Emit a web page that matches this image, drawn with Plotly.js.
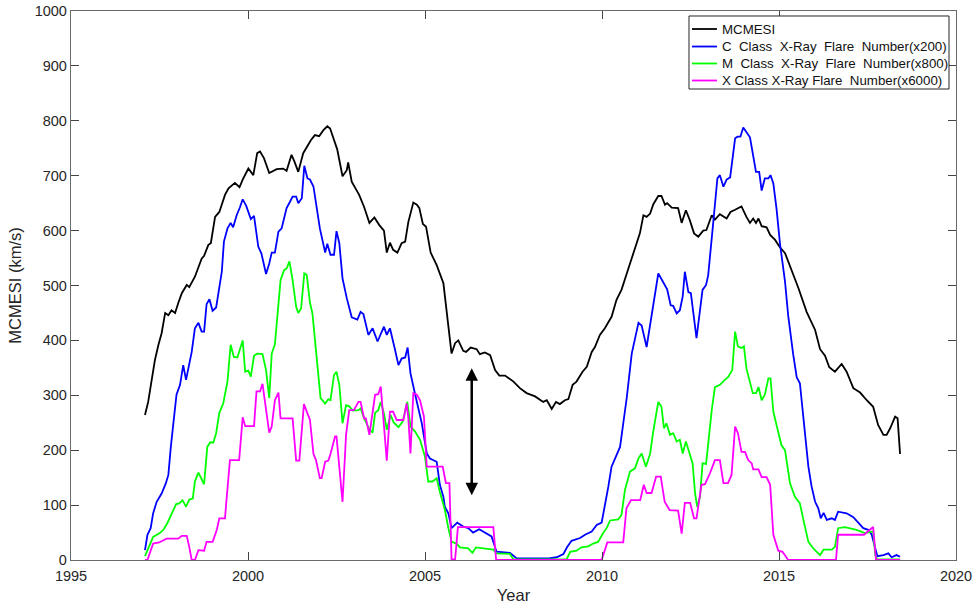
<!DOCTYPE html>
<html>
<head>
<meta charset="utf-8">
<script src="https://cdn.plot.ly/plotly-3.0.1.min.js"></script>
<style>html,body{margin:0;padding:0;background:#fff;}#chart{width:979px;height:608px;}</style>
</head>
<body>
<div id="chart"></div>
<script>
// ---- Data ----
const seriesNames = ["MCMESI",
  "C\u00a0 Class\u00a0 X-Ray\u00a0 Flare\u00a0 Number(x200)",
  "M\u00a0 Class\u00a0 X-Ray\u00a0 Flare\u00a0 Number(x800)",
  "X Class X-Ray Flare\u00a0 Number(x6000)"];

const yearsMcmesi = [1997.09,1997.18,1997.28,1997.37,1997.47,1997.56,1997.66,1997.75,1997.84,1997.94,1998.03,1998.13,1998.27,1998.34,1998.50,1998.69,1998.76,1998.88,1998.95,1999.07,1999.19,1999.35,1999.45,1999.63,1999.76,1999.85,2000.01,2000.15,2000.26,2000.34,2000.45,2000.60,2000.81,2000.99,2001.09,2001.23,2001.31,2001.42,2001.56,2001.66,2001.78,2001.89,2002.01,2002.13,2002.24,2002.32,2002.41,2002.52,2002.67,2002.79,2002.83,2002.93,2003.14,2003.28,2003.43,2003.57,2003.71,2003.84,2003.92,2004.01,2004.10,2004.22,2004.34,2004.44,2004.53,2004.67,2004.77,2004.84,2004.94,2005.03,2005.16,2005.33,2005.52,2005.61,2005.75,2005.85,2005.94,2006.08,2006.16,2006.29,2006.46,2006.55,2006.69,2006.84,2006.98,2007.10,2007.26,2007.50,2007.68,2007.87,2008.11,2008.34,2008.44,2008.58,2008.70,2008.81,2008.95,2009.05,2009.17,2009.28,2009.45,2009.57,2009.71,2009.80,2009.94,2010.08,2010.27,2010.41,2010.55,2010.70,2010.84,2010.98,2011.07,2011.17,2011.26,2011.36,2011.45,2011.59,2011.68,2011.78,2011.84,2011.97,2012.15,2012.25,2012.37,2012.48,2012.60,2012.72,2012.86,2012.95,2013.10,2013.19,2013.33,2013.52,2013.63,2013.76,2013.94,2014.08,2014.18,2014.27,2014.35,2014.42,2014.51,2014.65,2014.75,2014.89,2015.01,2015.17,2015.40,2015.55,2015.78,2016.02,2016.16,2016.30,2016.42,2016.58,2016.77,2016.91,2017.10,2017.29,2017.48,2017.66,2017.80,2017.95,2018.04,2018.14,2018.28,2018.35,2018.42];
const mcmesi = [264,288,328,364,392,413,450,446,455,450,468,486,501,497,516,549,554,574,577,625,634,665,677,687,679,693,713,701,741,744,732,705,712,713,709,738,726,707,741,753,765,774,772,783,790,786,768,748,699,710,724,689,665,643,614,624,610,600,560,578,565,560,577,580,616,651,647,641,612,607,560,537,504,455,376,395,400,381,379,387,384,375,378,373,346,336,336,325,313,304,298,288,291,275,288,284,291,293,319,325,343,352,379,388,410,422,443,474,492,522,549,580,595,628,625,631,648,663,663,647,650,642,641,614,637,619,595,589,600,601,628,620,630,622,634,638,644,625,614,622,614,622,608,606,592,583,571,559,522,495,452,419,384,372,351,343,357,343,313,305,291,279,246,228,228,240,261,258,193];

const yearsC = [1997.09,1997.16,1997.25,1997.32,1997.42,1997.56,1997.68,1997.75,1997.82,1997.94,1997.98,1998.08,1998.17,1998.25,1998.41,1998.50,1998.60,1998.69,1998.76,1998.83,1998.91,1999.00,1999.10,1999.26,1999.32,1999.42,1999.51,1999.58,1999.68,1999.77,1999.85,1999.95,2000.08,2000.17,2000.29,2000.38,2000.51,2000.60,2000.67,2000.76,2000.86,2000.95,2001.09,2001.19,2001.26,2001.36,2001.42,2001.52,2001.59,2001.68,2001.75,2001.85,2001.94,2002.03,2002.18,2002.24,2002.33,2002.43,2002.50,2002.58,2002.67,2002.79,2002.93,2003.09,2003.18,2003.26,2003.40,2003.52,2003.66,2003.84,2003.92,2004.01,2004.15,2004.25,2004.34,2004.44,2004.51,2004.59,2004.72,2004.91,2005.05,2005.14,2005.33,2005.42,2005.52,2005.56,2005.66,2005.75,2005.91,2006.08,2006.22,2006.36,2006.53,2006.69,2006.88,2007.02,2007.40,2007.59,2007.97,2008.50,2008.72,2008.91,2009.02,2009.14,2009.38,2009.52,2009.71,2009.85,2009.99,2010.06,2010.18,2010.27,2010.51,2010.70,2010.84,2011.03,2011.12,2011.26,2011.40,2011.59,2011.73,2011.84,2011.94,2012.01,2012.11,2012.20,2012.28,2012.34,2012.44,2012.51,2012.67,2012.84,2012.94,2013.00,2013.14,2013.26,2013.33,2013.43,2013.52,2013.62,2013.76,2013.83,2013.91,2013.99,2014.18,2014.27,2014.35,2014.44,2014.51,2014.60,2014.70,2014.76,2014.84,2014.93,2015.03,2015.17,2015.26,2015.40,2015.50,2015.59,2015.71,2015.83,2015.92,2016.02,2016.11,2016.18,2016.26,2016.35,2016.49,2016.58,2016.67,2016.91,2017.10,2017.24,2017.38,2017.52,2017.62,2017.72,2017.78,2017.95,2018.09,2018.18,2018.32,2018.42];
const cFlare = [18,46,58,85,106,121,140,155,206,273,301,319,355,328,379,422,432,416,416,466,475,454,460,525,580,604,614,606,628,642,657,645,621,627,571,558,521,540,560,560,598,604,641,653,662,662,650,659,718,695,693,680,641,604,560,576,556,556,599,577,513,477,442,438,452,448,410,422,398,425,410,422,384,355,367,369,387,340,302,249,194,185,179,137,115,97,85,58,68,61,58,50,56,50,43,15,13,3,3,3,5,11,24,35,40,46,52,64,68,91,134,170,206,296,376,432,427,388,443,522,506,493,464,463,449,455,480,525,488,486,404,492,501,519,613,695,701,680,693,697,768,771,771,788,770,732,707,707,673,695,695,701,686,640,575,507,445,375,333,322,243,170,134,106,94,76,86,73,76,73,88,85,78,68,58,55,46,21,7,9,12,5,9,6];

const yearsM = [1997.09,1997.16,1997.32,1997.51,1997.61,1997.72,1997.84,1997.97,1998.06,1998.15,1998.25,1998.34,1998.44,1998.50,1998.60,1998.76,1998.85,1998.93,1999.02,1999.10,1999.19,1999.30,1999.42,1999.51,1999.60,1999.70,1999.85,1999.92,2000.01,2000.08,2000.17,2000.26,2000.41,2000.51,2000.60,2000.67,2000.76,2000.86,2000.92,2001.02,2001.09,2001.17,2001.26,2001.36,2001.42,2001.50,2001.59,2001.66,2001.75,2001.82,2001.92,2002.01,2002.05,2002.18,2002.27,2002.33,2002.43,2002.50,2002.58,2002.67,2002.77,2002.86,2002.96,2003.12,2003.18,2003.28,2003.43,2003.52,2003.59,2003.68,2003.75,2003.84,2003.92,2004.03,2004.12,2004.25,2004.37,2004.50,2004.59,2004.72,2004.86,2005.00,2005.09,2005.21,2005.33,2005.42,2005.56,2005.66,2005.75,2005.89,2005.99,2006.22,2006.34,2006.44,2006.65,2006.93,2007.02,2007.40,2007.50,2009.00,2009.10,2009.28,2009.42,2009.61,2009.75,2009.89,2010.04,2010.13,2010.23,2010.46,2010.55,2010.65,2010.79,2010.93,2011.03,2011.12,2011.24,2011.36,2011.45,2011.59,2011.68,2011.75,2011.82,2011.92,2012.01,2012.11,2012.20,2012.28,2012.37,2012.48,2012.56,2012.63,2012.69,2012.77,2012.84,2012.94,2013.00,2013.10,2013.19,2013.33,2013.47,2013.56,2013.68,2013.76,2013.84,2013.94,2014.01,2014.08,2014.26,2014.35,2014.42,2014.51,2014.60,2014.70,2014.76,2014.84,2014.93,2015.07,2015.17,2015.31,2015.45,2015.59,2015.69,2015.83,2015.97,2016.16,2016.26,2016.49,2016.58,2016.67,2016.86,2017.19,2017.43,2017.66,2017.72,2017.77,2018.42];
const mFlare = [7,18,42,49,55,67,85,102,103,109,97,110,112,143,159,138,206,214,214,231,268,285,325,392,370,369,400,343,345,334,372,376,375,346,295,376,393,468,510,528,531,544,510,461,450,458,522,519,469,449,386,322,295,285,293,291,337,343,319,249,282,280,272,273,276,258,238,232,268,273,288,267,237,264,250,242,252,288,243,234,219,188,143,143,149,124,92,58,33,30,23,21,13,23,21,19,12,11,1,1,15,17,23,25,30,33,50,58,72,74,82,128,161,167,185,194,170,194,235,288,279,240,249,228,231,216,219,194,216,191,176,121,97,115,176,175,213,273,315,319,328,333,346,416,389,386,389,349,304,304,315,291,301,331,331,270,246,209,200,140,115,103,73,33,21,9,19,19,24,58,60,55,49,52,9,1,1];

const yearsX = [1997.09,1997.16,1997.32,1997.49,1997.70,1998.03,1998.13,1998.27,1998.34,1998.41,1998.50,1998.60,1998.76,1998.83,1999.00,1999.12,1999.19,1999.35,1999.40,1999.49,1999.75,1999.85,1999.92,2000.17,2000.24,2000.34,2000.41,2000.51,2000.60,2000.67,2000.76,2000.86,2000.92,2001.26,2001.36,2001.45,2001.58,2001.75,2001.85,2001.92,2002.03,2002.08,2002.18,2002.27,2002.33,2002.46,2002.50,2002.67,2002.77,2002.86,2002.99,2003.12,2003.18,2003.28,2003.33,2003.43,2003.52,2003.59,2003.68,2003.75,2003.82,2003.92,2004.01,2004.10,2004.20,2004.39,2004.48,2004.53,2004.59,2004.67,2004.77,2004.86,2004.97,2005.05,2005.50,2005.59,2005.69,2005.75,2005.85,2005.93,2006.93,2007.01,2009.99,2010.15,2010.60,2010.69,2010.82,2011.08,2011.18,2011.26,2011.40,2011.53,2011.66,2011.77,2011.91,2012.15,2012.25,2012.34,2012.49,2012.60,2012.67,2012.81,2012.91,2013.05,2013.19,2013.33,2013.43,2013.56,2013.66,2013.76,2013.84,2013.94,2014.04,2014.13,2014.23,2014.27,2014.42,2014.51,2014.65,2014.75,2014.84,2014.98,2015.10,2015.26,2016.61,2016.67,2017.40,2017.52,2017.66,2017.74,2018.42];
const xFlare = [0,0,30,32,39,39,44,44,24,0,0,18,17,33,33,55,76,76,115,182,182,260,244,244,307,307,321,273,232,243,291,305,258,258,181,181,284,255,193,182,149,149,179,181,193,225,225,106,228,273,273,288,288,258,258,228,273,301,302,316,261,181,270,270,255,255,285,258,194,304,301,291,261,170,170,140,140,1,1,60,60,0,0,32,32,94,109,109,137,122,122,152,152,106,91,90,48,104,104,76,76,137,138,158,182,182,140,140,155,243,231,197,197,182,176,165,165,151,151,137,46,17,15,0,0,46,46,52,60,0,0];

const xTickVals = [1995, 2000, 2005, 2010, 2015, 2020];
const yTickVals = [0, 100, 200, 300, 400, 500, 600, 700, 800, 900, 1000];
// double-headed arrow marking the gap (year, from, to)
const arrowYear = 2006.32;
const arrowTop = 352;
const arrowBottom = 118;

// ---- Chart ----
const colors = ["#000000", "#0000ff", "#00ff00", "#ff00ff"];
const xs = [yearsMcmesi, yearsC, yearsM, yearsX];
const ys = [mcmesi, cFlare, mFlare, xFlare];
const traces = xs.map((x, i) => ({
  x: x, y: ys[i], type: "scatter", mode: "lines", name: seriesNames[i],
  line: {color: colors[i], width: 1.8}, showlegend: false
}));

const FONT = "Liberation Sans, Arial, sans-serif";
const axisCommon = {
  showline: true, linecolor: "#6a6a6a", linewidth: 1.2, mirror: "ticks",
  ticks: "inside", ticklen: 8, tickcolor: "#444", tickwidth: 1,
  showgrid: false, zeroline: false,
  tickfont: {family: FONT, size: 14.5, color: "#262626"}
};

// Legend box drawn in paper coordinates (MATLAB-style compact legend)
const legBox = {x0: 0.6983, x1: 0.9921, y0: 0.8579, y1: 0.9909};
const legRowY = [0.9672, 0.9353, 0.9044, 0.8734];
const legLineX = [0.7017, 0.7299];
const legTextX = 0.7333;

const shapes = [{
  type: "rect", xref: "paper", yref: "paper",
  x0: legBox.x0, x1: legBox.x1, y0: legBox.y0, y1: legBox.y1,
  line: {color: "#262626", width: 1}, fillcolor: "#ffffff", layer: "above"
}];
const annotations = [];
seriesNames.forEach((name, i) => {
  shapes.push({
    type: "line", xref: "paper", yref: "paper",
    x0: legLineX[0], x1: legLineX[1], y0: legRowY[i], y1: legRowY[i],
    line: {color: colors[i], width: 1.8}, layer: "above"
  });
  annotations.push({
    xref: "paper", yref: "paper", x: legTextX, y: legRowY[i],
    xanchor: "left", yanchor: "middle", showarrow: false, text: name,
    font: {family: FONT, size: 13.3, color: "#111"}
  });
});
annotations.push({
  x: arrowYear, y: arrowBottom, ax: arrowYear, ay: arrowTop,
  xref: "x", yref: "y", axref: "x", ayref: "y",
  showarrow: true, arrowhead: 2, startarrowhead: 2, arrowside: "end+start",
  arrowsize: 1, startarrowsize: 1, arrowwidth: 2.5, arrowcolor: "#000", text: ""
});

const layout = {
  width: 979, height: 608,
  margin: {l: 71, r: 23, t: 11, b: 48},
  paper_bgcolor: "#ffffff", plot_bgcolor: "#ffffff",
  font: {family: FONT, color: "#262626"},
  xaxis: Object.assign({}, axisCommon, {
    range: [1995, 2020], tickvals: xTickVals, ticktext: xTickVals.map(String),
    ticklabelstandoff: 2,
    title: {text: "Year", font: {size: 16.5, color: "#262626"}, standoff: 6}
  }),
  yaxis: Object.assign({}, axisCommon, {
    range: [0, 1000], tickvals: yTickVals, ticktext: yTickVals.map(String),
    title: {text: "MCMESI (km/s)", font: {size: 16.5, color: "#262626"}, standoff: 8}
  }),
  showlegend: false,
  shapes: shapes,
  annotations: annotations
};

Plotly.newPlot("chart", traces, layout, {displayModeBar: false, staticPlot: true});
</script>
</body>
</html>
